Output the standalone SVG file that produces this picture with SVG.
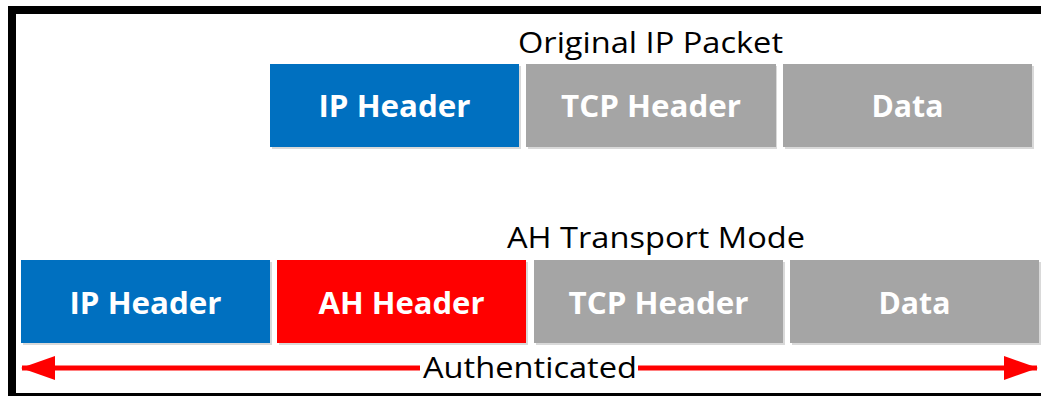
<svg xmlns="http://www.w3.org/2000/svg" width="1041" height="396" viewBox="0 0 1041 396">
<defs>
<style>
.blk{stroke:none}
.blue{fill:#0070C0}
.red{fill:#FF0000}
.gray{fill:#A5A5A5}
.shd{fill:#D9D9D9}
.lbl{font-family:"Open Sans","Liberation Sans",sans-serif;font-weight:bold;font-size:31px;fill:#FFFFFF;text-anchor:middle}
.ttl{font-family:"Open Sans","Liberation Sans",sans-serif;font-size:30px;fill:#000000}
.conn{stroke:#FF0000;stroke-width:5;fill:none}
</style>
<marker id="ah" markerWidth="34" markerHeight="24" refX="33" refY="12" orient="auto-start-reverse" markerUnits="userSpaceOnUse">
<path d="M0,0 L34,12 L0,24 Z" fill="#FF0000"/>
</marker>
</defs>
<rect x="0" y="0" width="1041" height="396" fill="#FFFFFF"/>
<rect x="12" y="10" width="1040" height="387" fill="none" stroke="#000000" stroke-width="8"/>

<text class="ttl" x="518" y="53" textLength="265" lengthAdjust="spacingAndGlyphs">Original IP Packet</text>
<text class="ttl" x="507" y="248" textLength="298" lengthAdjust="spacingAndGlyphs">AH Transport Mode</text>

<g id="orig-ip">
<rect class="shd" x="272" y="66" width="249" height="83"/>
<rect class="blue" x="270" y="64" width="249" height="83"/>
<text class="lbl" x="394.5" y="117" textLength="152" lengthAdjust="spacingAndGlyphs">IP Header</text>
</g>
<g id="orig-tcp">
<rect class="shd" x="528" y="66" width="249" height="83"/>
<rect class="gray" x="526" y="64" width="250" height="83"/>
<text class="lbl" x="651" y="117" textLength="180" lengthAdjust="spacingAndGlyphs">TCP Header</text>
</g>
<g id="orig-data">
<rect class="shd" x="785" y="66" width="249" height="83"/>
<rect class="gray" x="783" y="64" width="249" height="83"/>
<text class="lbl" x="907.5" y="117" textLength="72" lengthAdjust="spacingAndGlyphs">Data</text>
</g>

<g id="ah-ip">
<rect class="shd" x="23" y="262" width="249" height="83"/>
<rect class="blue" x="21" y="260" width="249" height="83"/>
<text class="lbl" x="145.5" y="314" textLength="152" lengthAdjust="spacingAndGlyphs">IP Header</text>
</g>
<g id="ah-ah">
<rect class="shd" x="279" y="262" width="249" height="83"/>
<rect class="red" x="277" y="260" width="249" height="83"/>
<text class="lbl" x="401.5" y="314" textLength="166" lengthAdjust="spacingAndGlyphs">AH Header</text>
</g>
<g id="ah-tcp">
<rect class="shd" x="536" y="262" width="249" height="83"/>
<rect class="gray" x="534" y="260" width="249" height="83"/>
<text class="lbl" x="658.5" y="314" textLength="180" lengthAdjust="spacingAndGlyphs">TCP Header</text>
</g>
<g id="ah-data">
<rect class="shd" x="792" y="262" width="249" height="83"/>
<rect class="gray" x="790" y="260" width="249" height="83"/>
<text class="lbl" x="914.5" y="314" textLength="72" lengthAdjust="spacingAndGlyphs">Data</text>
</g>

<g id="connectors">
<line class="conn" x1="420" y1="368" x2="22" y2="368" marker-end="url(#ah)"/>
<line class="conn" x1="638" y1="368" x2="1037" y2="368" marker-end="url(#ah)"/>
<text class="ttl" x="423" y="378" textLength="214" lengthAdjust="spacingAndGlyphs">Authenticated</text>
</g>
</svg>
